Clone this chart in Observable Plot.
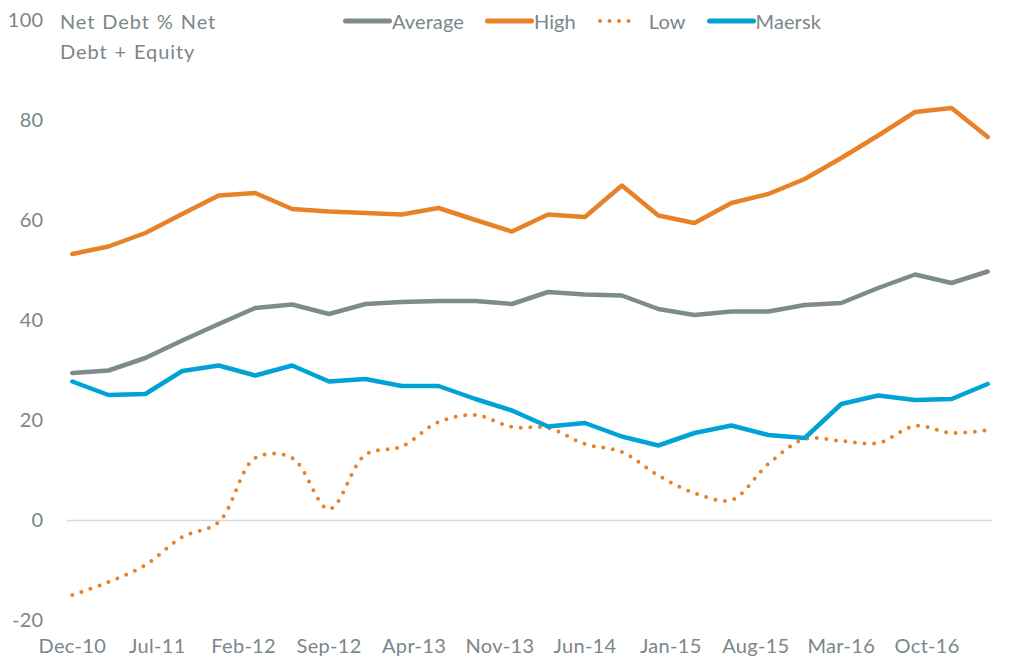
<!DOCTYPE html>
<html>
<head>
<meta charset="utf-8">
<script src="https://cdn.jsdelivr.net/npm/d3@7"></script>
<script src="https://cdn.jsdelivr.net/npm/@observablehq/plot@0.6"></script>
<style>
  html, body { margin: 0; padding: 0; background: #fff; }
  #wrap { position: relative; width: 1012px; height: 672px; font-family: Lato, "Open Sans", sans-serif; color: #7b868a; }
  #ytitle { position: absolute; left: 60px; top: 6px; font-size: 20px; line-height: 30px; letter-spacing: 0.9px; word-spacing: 1px; }
  #legend { position: absolute; left: 343px; top: 9px; display: flex; align-items: center; font-size: 20px; letter-spacing: 0.1px; }
  #legend .item { display: flex; align-items: center; margin-right: 21px; }
  #legend svg { display: block; }
</style>
</head>
<body>
<div id="wrap">
  <div id="chart"></div>
  <div id="ytitle">Net Debt % Net<br>Debt + Equity</div>
  <div id="legend"></div>
</div>
<script>
const quarters = ["Dec-10","Mar-11","Jun-11","Sep-11","Dec-11","Mar-12","Jun-12","Sep-12","Dec-12","Mar-13","Jun-13","Sep-13","Dec-13","Mar-14","Jun-14","Sep-14","Dec-14","Mar-15","Jun-15","Sep-15","Dec-15","Mar-16","Jun-16","Sep-16","Dec-16","Mar-17"];
const average = [29.5, 30, 32.5, 36, 39.3, 42.5, 43.2, 41.3, 43.3, 43.7, 43.9, 43.9, 43.3, 45.7, 45.2, 45, 42.3, 41.1, 41.8, 41.8, 43.1, 43.5, 46.5, 49.2, 47.5, 49.8];
const high = [53.3, 54.8, 57.5, 61.3, 65, 65.5, 62.3, 61.8, 61.5, 61.2, 62.5, 60.1, 57.8, 61.2, 60.7, 67, 61, 59.5, 63.5, 65.3, 68.3, 72.5, 77, 81.7, 82.5, 76.7];
const low = [-14.9, -12.3, -8.9, -3.3, -0.3, 12.5, 12.5, 2.3, 13.2, 14.8, 19.7, 21.1, 18.7, 18.5, 15.3, 13.7, 9, 5.5, 4.1, 11.3, 16.3, 15.9, 15.5, 18.9, 17.5, 18.1];
const maersk = [27.8, 25.1, 25.3, 29.9, 31, 29, 31, 27.8, 28.3, 26.9, 26.9, 24.3, 22, 18.8, 19.5, 16.8, 15, 17.5, 19, 17.1, 16.5, 23.3, 25, 24.1, 24.3, 27.3];
const xTickLabels = ["Dec-10","Jul-11","Feb-12","Sep-12","Apr-13","Nov-13","Jun-14","Jan-15","Aug-15","Mar-16","Oct-16"];
const yTicks = [-20, 0, 20, 40, 60, 80, 100];
const seriesNames = ["Average","High","Low","Maersk"];
const colors = {Average: "#7f8b8b", High: "#e88228", Low: "#e88228", Maersk: "#00a3d3"};

const parse = d3.timeParse("%b-%y");
const fmt = d3.timeFormat("%b-%y");
const seriesValues = {Average: average, High: high, Low: low, Maersk: maersk};
const rows = name => quarters.map((q, i) => ({date: parse(q), value: seriesValues[name][i], series: name}));

const common = {x: "date", y: "value", strokeWidth: 4.5, strokeLinejoin: "round", strokeLinecap: "round"};

const chart = Plot.plot({
  width: 1012,
  height: 672,
  marginTop: 20,
  marginBottom: 52,
  marginLeft: 67,
  marginRight: 20,
  style: {fontFamily: "Lato, 'Open Sans', sans-serif", fontSize: "20px", color: "#7b868a", background: "#fff", letterSpacing: "0.3px"},
  x: {type: "time", domain: [new Date(2010, 10, 19), new Date(2017, 2, 13)], ticks: xTickLabels.map(parse), tickFormat: fmt, tickSize: 0, tickPadding: 18, label: null},
  y: {domain: [-20, 100], ticks: yTicks, tickFormat: d => String(d), tickSize: 0, tickPadding: 24, label: null},
  marks: [
    Plot.ruleY([0], {stroke: "#d9d9d9", strokeWidth: 1.5}),
    Plot.line(rows("Low"), {...common, stroke: colors.Low, strokeWidth: 4, strokeDasharray: "0,9.6", curve: "catmull-rom"}),
    Plot.line(rows("Average"), {...common, stroke: colors.Average}),
    Plot.line(rows("High"), {...common, stroke: colors.High}),
    Plot.line(rows("Maersk"), {...common, stroke: colors.Maersk})
  ]
});
document.getElementById("chart").appendChild(chart);

// legend
const legend = d3.select("#legend");
seriesNames.forEach(name => {
  const item = legend.append("div").attr("class", "item");
  const s = item.append("svg").attr("width", name === "Low" ? 52 : 49).attr("height", 10);
  if (name === "Low") {
    s.append("line").attr("x1", 3).attr("x2", 41).attr("y1", 5).attr("y2", 5)
      .attr("stroke", colors[name]).attr("stroke-width", 4).attr("stroke-linecap", "round").attr("stroke-dasharray", "0,9.5");
  } else {
    s.append("line").attr("x1", 2.5).attr("x2", 46.5).attr("y1", 5).attr("y2", 5)
      .attr("stroke", colors[name]).attr("stroke-width", 5).attr("stroke-linecap", "round");
  }
  item.append("span").text(name);
});
</script>
</body>
</html>
